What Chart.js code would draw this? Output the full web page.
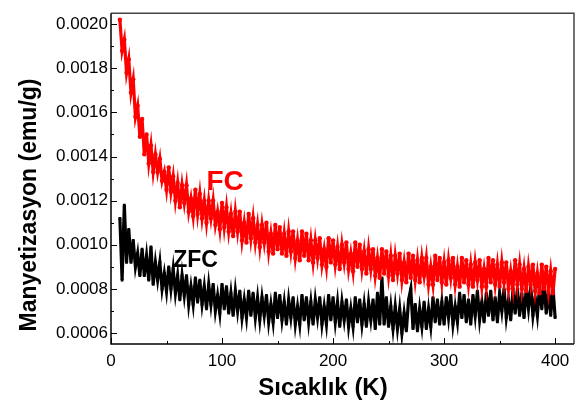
<!DOCTYPE html>
<html>
<head>
<meta charset="utf-8">
<script src="https://cdn.jsdelivr.net/npm/chart.js@4.4.0/dist/chart.umd.min.js"></script>
<style>
  html, body { margin: 0; padding: 0; background: #fff; }
  #wrap { width: 580px; height: 405px; position: relative; }
</style>
</head>
<body>
<div id="wrap"><canvas id="mag-chart"></canvas></div>
<script>
// temperature (K), shared by both curves
const temps = [
  8,10,12,14,16,18,20,22,24,26,28,30,32,34,36,38,40,42,44,46,
  48,50,52,54,56,58,60,62,64,66,68,70,72,74,76,78,80,82,84,86,
  88,90,92,94,96,98,100,102,104,106,108,110,112,114,116,118,120,122,124,126,
  128,130,132,134,136,138,140,142,144,146,148,150,152,154,156,158,160,162,164,166,
  168,170,172,174,176,178,180,182,184,186,188,190,192,194,196,198,200,202,204,206,
  208,210,212,214,216,218,220,222,224,226,228,230,232,234,236,238,240,242,244,246,
  248,250,252,254,256,258,260,262,264,266,268,270,272,274,276,278,280,282,284,286,
  288,290,292,294,296,298,300,302,304,306,308,310,312,314,316,318,320,322,324,326,
  328,330,332,334,336,338,340,342,344,346,348,350,352,354,356,358,360,362,364,366,
  368,370,372,374,376,378,380,382,384,386,388,390,392,394,396,398,400
];

// field cooled magnetization (emu/g)
const fcM = [
  0.00202,0.00188,0.00193,0.00178,0.00184,0.00169,0.00175,0.00158,0.00163,0.00149,
  0.00157,0.00141,0.00150,0.00137,0.00145,0.00133,0.00141,0.00133,0.00139,0.00129,
  0.00133,0.00125,0.00135,0.00124,0.00131,0.00120,0.00128,0.00117,0.00127,0.00119,
  0.00127,0.00115,0.00121,0.00113,0.00125,0.00114,0.00123,0.00112,0.00120,0.00110,
  0.00120,0.00112,0.00120,0.00109,0.00115,0.00107,0.00119,0.00108,0.00117,0.00106,
  0.00114,0.00104,0.00115,0.00106,0.00115,0.00102,0.00110,0.00101,0.00114,0.00103,
  0.00112,0.00101,0.00109,0.00099,0.00109,0.00101,0.00110,0.00097,0.00105,0.00096,
  0.00109,0.00098,0.00108,0.00096,0.00105,0.00095,0.00106,0.00097,0.00106,0.00094,
  0.00102,0.00093,0.00106,0.00095,0.00105,0.00093,0.00102,0.00092,0.00102,0.00094,
  0.00103,0.00091,0.00098,0.00090,0.00103,0.00092,0.00102,0.00091,0.00099,0.00089,
  0.00100,0.00092,0.00101,0.00089,0.00096,0.00088,0.00101,0.00090,0.00100,0.00089,
  0.00097,0.00087,0.00098,0.00089,0.00098,0.00086,0.00094,0.00085,0.00098,0.00087,
  0.00097,0.00086,0.00095,0.00084,0.00095,0.00087,0.00096,0.00084,0.00092,0.00083,
  0.00096,0.00085,0.00095,0.00084,0.00093,0.00083,0.00094,0.00086,0.00094,0.00082,
  0.00090,0.00082,0.00095,0.00084,0.00094,0.00083,0.00092,0.00082,0.00093,0.00085,
  0.00094,0.00082,0.00090,0.00081,0.00094,0.00083,0.00093,0.00082,0.00091,0.00081,
  0.00092,0.00084,0.00093,0.00081,0.00089,0.00081,0.00094,0.00083,0.00093,0.00082,
  0.00091,0.00081,0.00092,0.00083,0.00092,0.00080,0.00088,0.00080,0.00093,0.00082,
  0.00091,0.00080,0.00089,0.00079,0.00090,0.00082,0.00091,0.00079,0.00087,0.00078,
  0.00091,0.00080,0.00090,0.00079,0.00088,0.00078,0.00089
];

// zero field cooled magnetization (emu/g)
const zfcM = [
  0.00112,0.00084,0.00118,0.00092,0.00107,0.00092,0.00102,0.00090,0.00096,0.00086,
  0.00098,0.00086,0.00095,0.00084,0.00099,0.00082,0.00092,0.00084,0.00092,0.00080,
  0.00087,0.00079,0.00090,0.00080,0.00089,0.00078,0.00086,0.00075,0.00086,0.00077,
  0.00086,0.00073,0.00081,0.00073,0.00085,0.00074,0.00084,0.00073,0.00081,0.00071,
  0.00082,0.00073,0.00082,0.00070,0.00077,0.00069,0.00082,0.00071,0.00081,0.00069,
  0.00078,0.00068,0.00079,0.00070,0.00079,0.00067,0.00075,0.00067,0.00079,0.00068,
  0.00078,0.00067,0.00076,0.00066,0.00076,0.00068,0.00077,0.00065,0.00073,0.00065,
  0.00078,0.00067,0.00077,0.00066,0.00074,0.00064,0.00075,0.00067,0.00076,0.00064,
  0.00072,0.00064,0.00077,0.00066,0.00076,0.00065,0.00074,0.00064,0.00075,0.00067,
  0.00076,0.00064,0.00072,0.00064,0.00077,0.00066,0.00076,0.00065,0.00074,0.00063,
  0.00074,0.00066,0.00075,0.00063,0.00071,0.00063,0.00076,0.00065,0.00075,0.00064,
  0.00073,0.00063,0.00074,0.00066,0.00075,0.00062,0.00078,0.00064,0.00085,0.00064,
  0.00076,0.00063,0.00072,0.00062,0.00072,0.00062,0.00071,0.00060,0.00069,0.00061,
  0.00075,0.00080,0.00062,0.00073,0.00061,0.00071,0.00063,0.00074,0.00062,0.00071,
  0.00063,0.00076,0.00065,0.00075,0.00064,0.00074,0.00064,0.00076,0.00067,0.00077,
  0.00064,0.00072,0.00065,0.00078,0.00067,0.00077,0.00065,0.00075,0.00064,0.00077,
  0.00068,0.00079,0.00066,0.00074,0.00065,0.00078,0.00068,0.00079,0.00066,0.00076,
  0.00065,0.00078,0.00070,0.00080,0.00067,0.00075,0.00066,0.00079,0.00069,0.00080,
  0.00068,0.00078,0.00067,0.00080,0.00071,0.00081,0.00068,0.00076,0.00068,0.00081,
  0.00071,0.00082,0.00069,0.00079,0.00068,0.00081,0.00067
];

const xMajor = [0, 100, 200, 300, 400];
const xMinor = [50, 150, 250, 350];
const yMajor = [0.0006, 0.0008, 0.0010, 0.0012, 0.0014, 0.0016, 0.0018, 0.0020];
const yMinor = [0.0007, 0.0009, 0.0011, 0.0013, 0.0015, 0.0017, 0.0019];

const FONT = 'Liberation Sans, Arial, Helvetica, sans-serif';

// curve names written inside the plot, anchored at data coordinates
const curveNotes = [
  { text: 'FC', t: 86, m: 0.00125, color: '#ff0000', size: 28 },
  { text: 'ZFC', t: 56, m: 0.000898, color: '#000000', size: 23 }
];

const toPoints = (ys) => temps.map((t, i) => ({ x: t, y: ys[i] }));

const frameAndText = {
  id: 'frameAndText',
  afterDraw(chart) {
    const { ctx, chartArea: a, scales: { x, y } } = chart;
    ctx.save();

    // top / right border
    ctx.strokeStyle = '#444';
    ctx.lineWidth = 1.5;
    ctx.beginPath();
    ctx.moveTo(a.left, a.top); ctx.lineTo(a.right, a.top); ctx.lineTo(a.right, a.bottom);
    ctx.stroke();
    // left / bottom axis
    ctx.strokeStyle = '#000';
    ctx.beginPath();
    ctx.moveTo(a.left, a.top); ctx.lineTo(a.left, a.bottom); ctx.lineTo(a.right, a.bottom);
    ctx.stroke();

    // inward ticks
    ctx.lineWidth = 1;
    ctx.beginPath();
    xMajor.forEach(v => { const px = Math.round(x.getPixelForValue(v)) + 0.5; ctx.moveTo(px, a.bottom); ctx.lineTo(px, a.bottom - 6); });
    xMinor.forEach(v => { const px = Math.round(x.getPixelForValue(v)) + 0.5; ctx.moveTo(px, a.bottom); ctx.lineTo(px, a.bottom - 3); });
    yMajor.forEach(v => { const py = Math.round(y.getPixelForValue(v)) + 0.5; ctx.moveTo(a.left, py); ctx.lineTo(a.left + 6, py); });
    yMinor.forEach(v => { const py = Math.round(y.getPixelForValue(v)) + 0.5; ctx.moveTo(a.left, py); ctx.lineTo(a.left + 3, py); });
    ctx.stroke();

    // curve names
    ctx.textAlign = 'left';
    ctx.textBaseline = 'alphabetic';
    curveNotes.forEach(n => {
      ctx.fillStyle = n.color;
      ctx.font = 'bold ' + n.size + 'px ' + FONT;
      ctx.fillText(n.text, x.getPixelForValue(n.t), y.getPixelForValue(n.m));
    });

    // axis titles
    ctx.fillStyle = '#000';
    ctx.font = 'bold 24px ' + FONT;
    ctx.textAlign = 'center';
    ctx.fillText('Sıcaklık (K)', a.left + 212, 395);
    ctx.font = 'bold 23px ' + FONT;
    ctx.translate(36, 205);
    ctx.rotate(-Math.PI / 2);
    ctx.fillText('Manyetizasyon (emu/g)', 0, 0);

    ctx.restore();
  }
};

const ctx = document.getElementById('mag-chart').getContext('2d');
const magChart = new Chart(ctx, {
  type: 'scatter',
  data: {
    datasets: [{
      label: 'FC',
      data: toPoints(fcM),
      showLine: true,
      borderColor: '#ff0000',
      backgroundColor: '#ff0000',
      borderWidth: 3.2,
      pointStyle: 'circle',
      pointRadius: 2.2,
      pointBorderWidth: 0,
      order: 0
    }, {
      label: 'ZFC',
      data: toPoints(zfcM),
      showLine: true,
      borderColor: '#000000',
      backgroundColor: '#000000',
      borderWidth: 3.2,
      pointStyle: 'rect',
      pointRadius: 2,
      pointBorderWidth: 0,
      order: 1
    }]
  },
  options: {
    responsive: true,
    maintainAspectRatio: false,
    animation: false,
    layout: { padding: { top: 6, right: 6, left: 0, bottom: 0 } },
    plugins: {
      legend: { display: false },
      tooltip: { enabled: false }
    },
    scales: {
      x: {
        type: 'linear',
        min: 0,
        max: 417,
        grid: { display: false, drawTicks: false },
        border: { display: false },
        afterBuildTicks: (scale) => { scale.ticks = xMajor.map(v => ({ value: v })); },
        afterFit: (scale) => { scale.height = 61; },
        ticks: {
          color: '#000',
          padding: 7,
          maxRotation: 0,
          font: { family: FONT, size: 17 }
        }
      },
      y: {
        type: 'linear',
        min: 0.00055,
        max: 0.00205,
        grid: { display: false, drawTicks: false },
        border: { display: false },
        afterBuildTicks: (scale) => { scale.ticks = yMajor.map(v => ({ value: v })); },
        afterFit: (scale) => { scale.width = 111; },
        ticks: {
          color: '#000',
          padding: 3,
          font: { family: FONT, size: 17 },
          callback: (v) => v.toFixed(4)
        }
      }
    }
  },
  plugins: [frameAndText]
});
</script>
</body>
</html>
